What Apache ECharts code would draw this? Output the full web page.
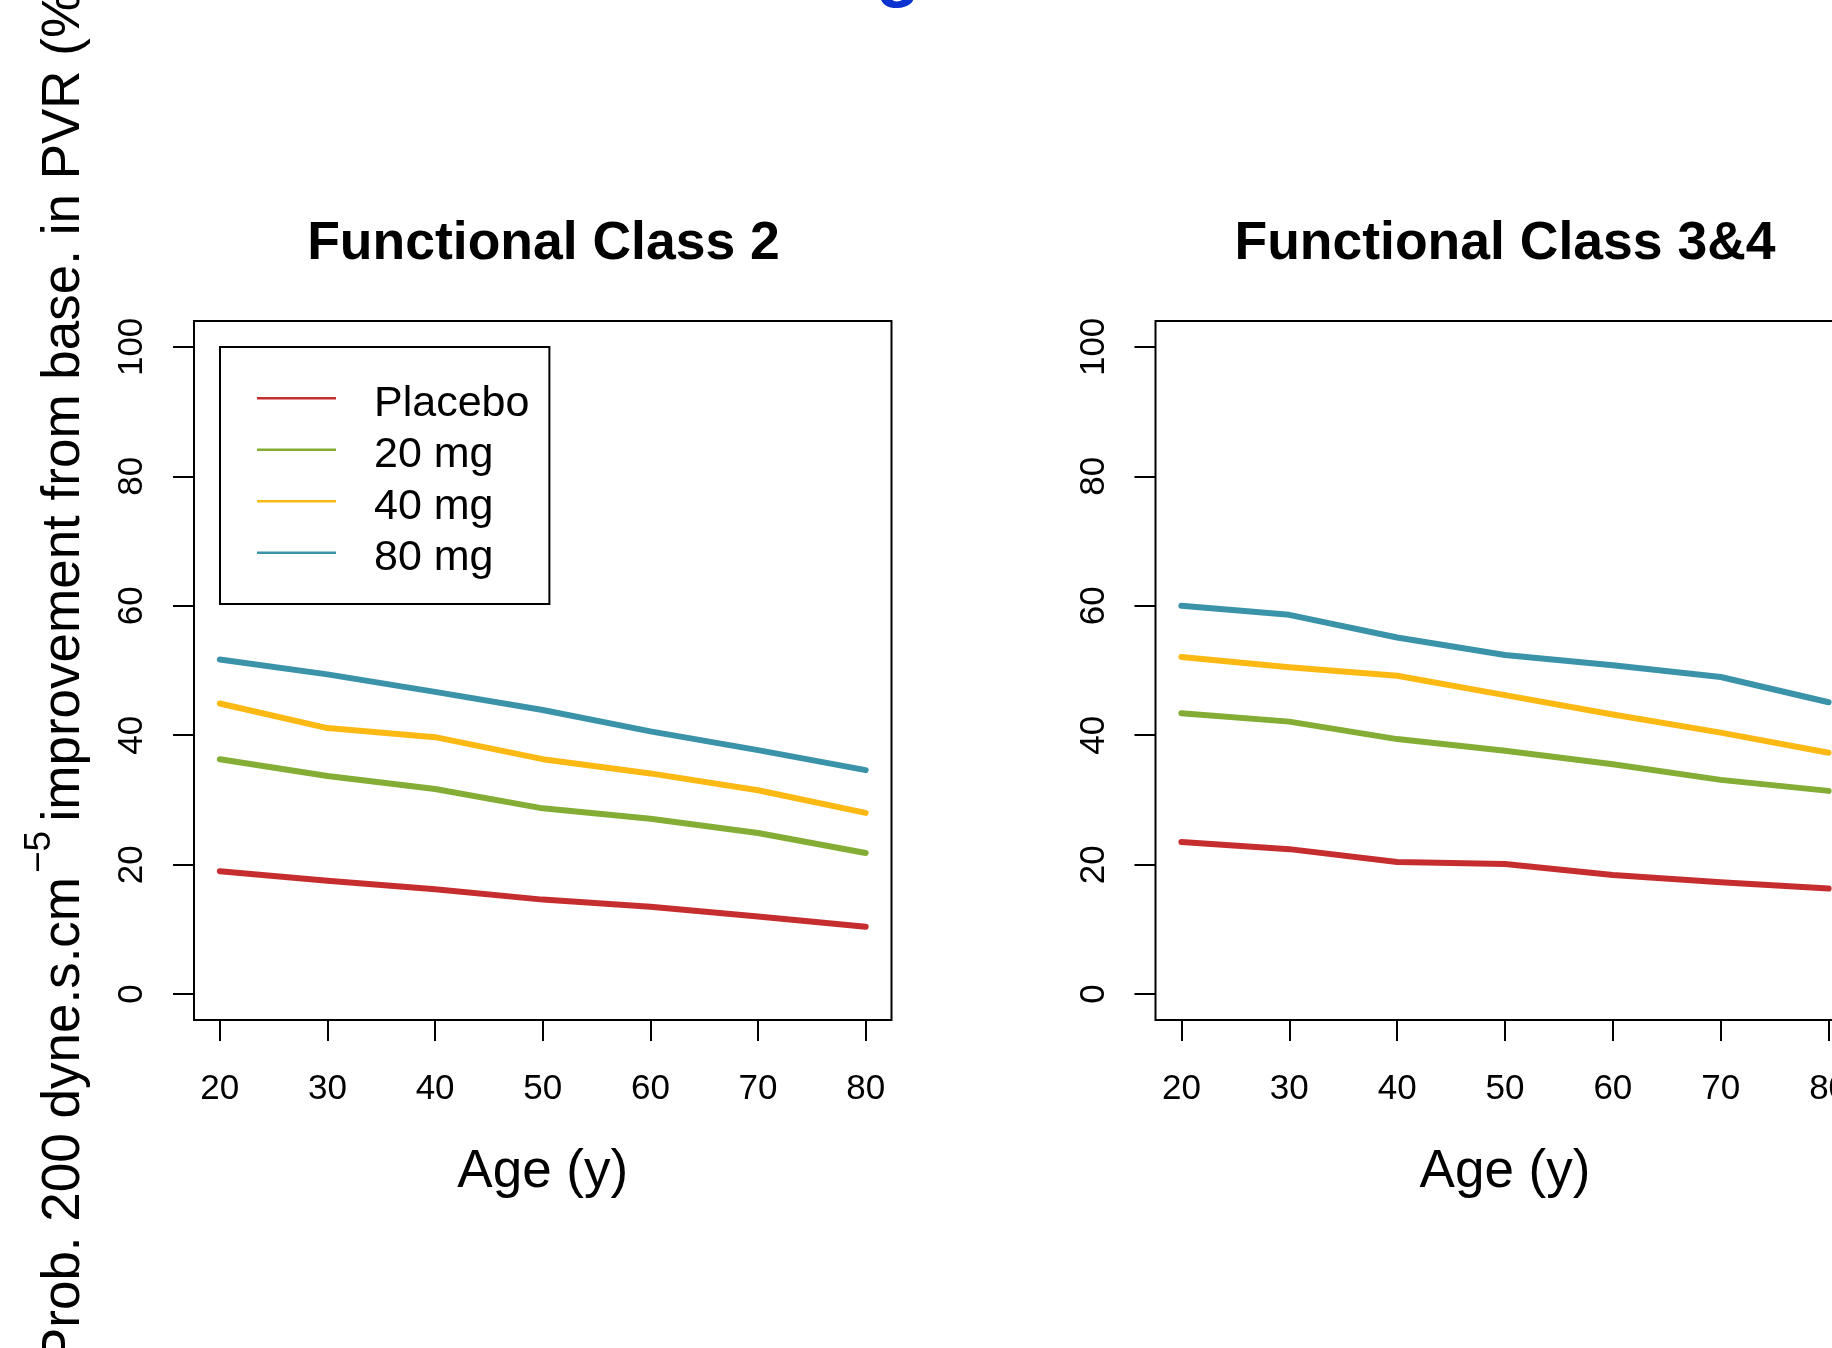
<!DOCTYPE html>
<html>
<head>
<meta charset="utf-8">
<script src="https://cdn.jsdelivr.net/npm/echarts@6/dist/echarts.min.js"></script>
<style>
  html, body { margin: 0; padding: 0; background: #ffffff; }
  #chart { width: 1832px; height: 1348px; }
</style>
</head>
<body>
<div id="chart"></div>
<script>
// Ages at which the model was evaluated, and the tick marks on each axis
const ages = [20, 30, 40, 50, 60, 70, 80];
const ageTicks = [20, 30, 40, 50, 60, 70, 80];
const probTicks = [0, 20, 40, 60, 80, 100];

const panelTitles = ['Functional Class 2', 'Functional Class 3&4'];
const seriesNames = ['Placebo', '20 mg', '40 mg', '80 mg'];
const seriesColors = ['#C62D2F', '#84AD35', '#FDB913', '#3A93A9'];

// Probability (%) of a 200 dyne.s.cm^-5 PVR improvement, Functional Class 2
const fc2Placebo = [19.0, 17.5, 16.2, 14.6, 13.5, 12.0, 10.4];
const fc2Dose20 = [36.3, 33.7, 31.7, 28.7, 27.1, 24.9, 21.8];
const fc2Dose40 = [44.9, 41.1, 39.7, 36.3, 34.1, 31.5, 28.0];
const fc2Dose80 = [51.7, 49.4, 46.7, 43.9, 40.6, 37.7, 34.6];

// Same outcome, Functional Class 3&4
const fc34Placebo = [23.5, 22.4, 20.4, 20.1, 18.4, 17.3, 16.3];
const fc34Dose20 = [43.4, 42.1, 39.4, 37.6, 35.5, 33.1, 31.4];
const fc34Dose40 = [52.1, 50.5, 49.2, 46.2, 43.2, 40.4, 37.3];
const fc34Dose80 = [60.0, 58.6, 55.1, 52.4, 50.8, 49.0, 45.1];

const panelData = [
  [fc2Placebo, fc2Dose20, fc2Dose40, fc2Dose80],
  [fc34Placebo, fc34Dose20, fc34Dose40, fc34Dose80]
];

const FONT = '"Liberation Sans", Arial, Helvetica, sans-serif';

// Plot regions (pixels); each panel spans age 17.6-82.4 and -4-104 %
const panels = [
  { left: 194, top: 321, width: 697.5, height: 699, center: 543.5 },
  { left: 1155.5, top: 321, width: 699, height: 699, center: 1505 }
];

const grids = panels.map(p => ({
  left: p.left, top: p.top, width: p.width, height: p.height,
  show: true, borderColor: '#000', borderWidth: 2,
  backgroundColor: 'transparent', outerBoundsMode: 'none'
}));

const xAxes = panels.map((p, i) => ({
  type: 'value', gridIndex: i, min: 17.6, max: 82.4,
  axisLine: { show: false, onZero: false },
  axisTick: { show: true, length: 21, customValues: ageTicks, lineStyle: { color: '#000', width: 2 } },
  axisLabel: { customValues: ageTicks, margin: 52, fontSize: 35, color: '#000', fontFamily: FONT },
  splitLine: { show: false },
  name: 'Age (y)', nameLocation: 'middle', nameGap: 126,
  nameTextStyle: { fontSize: 53, color: '#000', fontFamily: FONT }
}));

const yAxes = panels.map((p, i) => ({
  type: 'value', gridIndex: i, min: -4, max: 104,
  axisLine: { show: false, onZero: false },
  axisTick: { show: true, length: 21, customValues: probTicks, lineStyle: { color: '#000', width: 2 } },
  axisLabel: { customValues: probTicks, rotate: 90, margin: 44, fontSize: 35, color: '#000', fontFamily: FONT },
  splitLine: { show: false }
}));

const series = [];
panelData.forEach((groups, pi) => {
  groups.forEach((vals, si) => {
    series.push({
      type: 'line', name: seriesNames[si],
      xAxisIndex: pi, yAxisIndex: pi,
      data: ages.map((a, k) => [a, vals[k]]),
      symbol: 'none', showSymbol: false, silent: true,
      color: seriesColors[si],
      lineStyle: { width: 6, color: seriesColors[si], cap: 'round', join: 'round' }
    });
  });
});

const titles = panels.map((p, i) => ({
  text: panelTitles[i], left: p.center, top: 217, textAlign: 'center', padding: 0,
  textStyle: { fontSize: 53.5, fontWeight: 'bold', color: '#000', fontFamily: FONT }
}));

// Shared y-axis title, rotated, with the -5 exponent raised
const yTitle = {
  type: 'group', x: 64.7, y: 877, rotation: Math.PI / 2, silent: true,
  children: [
    { type: 'text', style: { text: 'Prob. 200 dyne.s.cm', x: 0, y: 0, align: 'right', verticalAlign: 'middle',
        fontSize: 53, fontFamily: FONT, fill: '#000' } },
    { type: 'text', style: { text: '\u22125', x: 4, y: -24.5, align: 'left', verticalAlign: 'middle',
        fontSize: 37, fontFamily: FONT, fill: '#000' } },
    { type: 'text', style: { text: 'improvement from base. in PVR (%)', x: 55.5, y: 0, align: 'left', verticalAlign: 'middle',
        fontSize: 53, fontFamily: FONT, fill: '#000' } }
  ]
};

// Lower edge of the page heading running off the top
const heading = {
  type: 'text', x: 898, y: -27, silent: true,
  style: { text: 'g', align: 'center', verticalAlign: 'middle', fontSize: 72, fontWeight: 'bold',
    fontFamily: FONT, fill: '#0A33CF' }
};

// Legend key: a thin stroke sitting a little above the label's centre line
const legendKey = 'path://M0,0H79V2.5H0Z M0,13.95H0.01V14H0Z';

const chart = echarts.init(document.getElementById('chart'), null, { renderer: 'canvas' });
chart.setOption({
  backgroundColor: '#ffffff',
  animation: false,
  title: titles,
  grid: grids,
  xAxis: xAxes,
  yAxis: yAxes,
  legend: {
    show: true, orient: 'vertical', left: 220, top: 347,
    data: seriesNames, icon: legendKey, itemWidth: 79, itemHeight: 14,
    itemGap: 8.5, padding: [35.5, 20, 24, 37],
    borderColor: '#000', borderWidth: 2, backgroundColor: '#fff',
    selectedMode: false,
    textStyle: { fontSize: 43, lineHeight: 42, padding: [0, 0, 0, 33], color: '#000', fontFamily: FONT }
  },
  graphic: [yTitle, heading],
  series: series
});
</script>
</body>
</html>
